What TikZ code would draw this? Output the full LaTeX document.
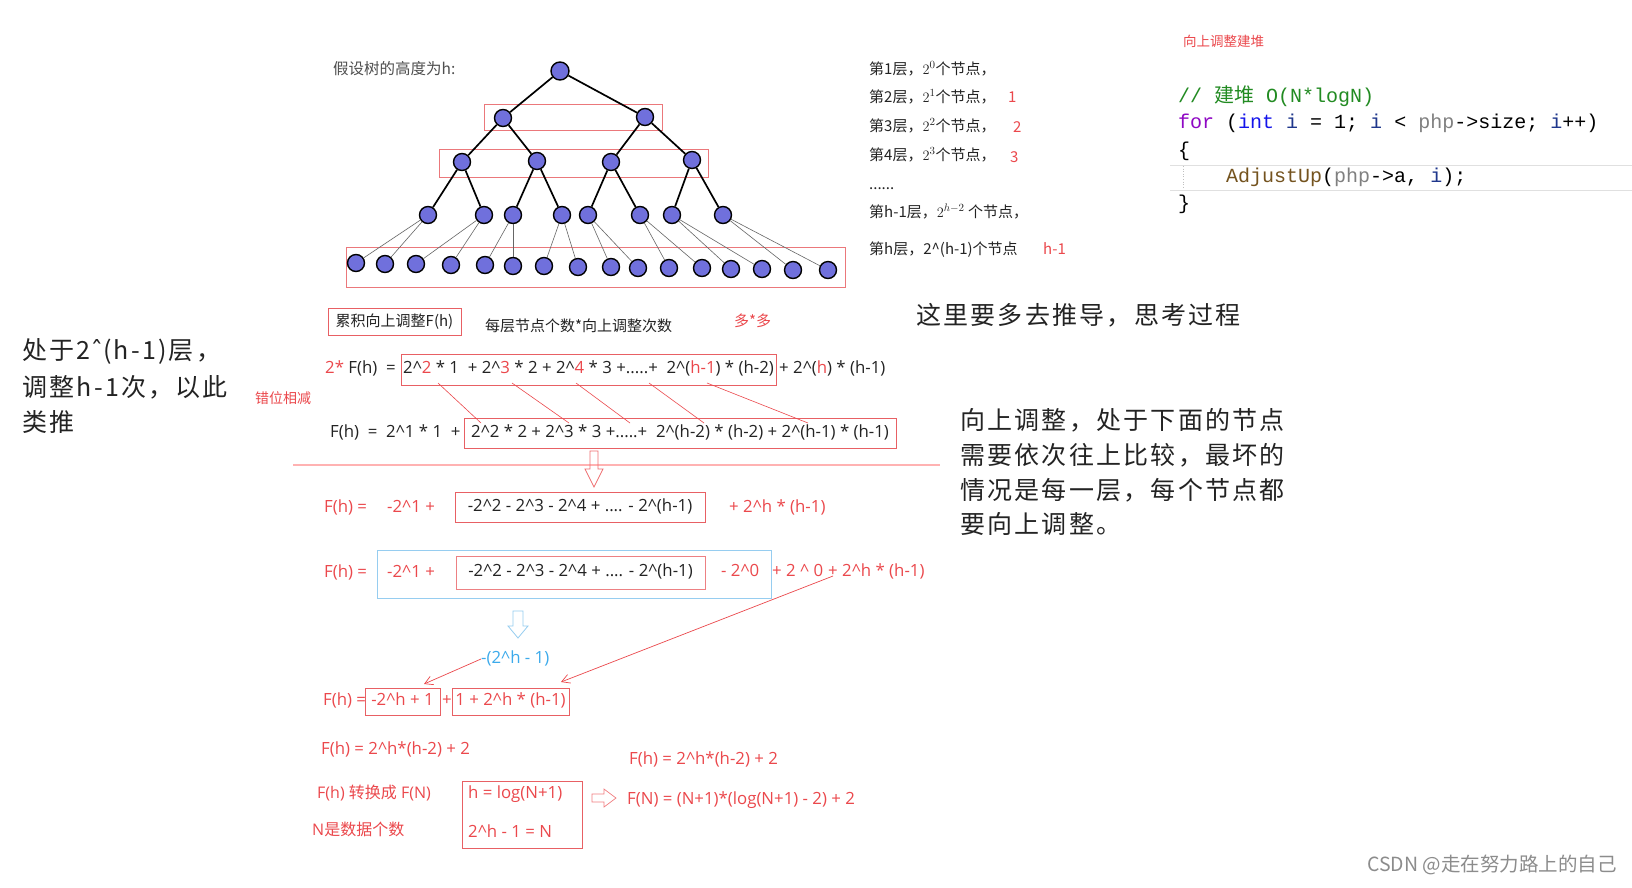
\documentclass[tikz,border=0pt]{standalone}
\usepackage{fontspec}
\setmainfont{Noto Sans CJK SC}
\newfontfamily\codefont{Liberation Mono}
\newfontfamily\cjkfont{Noto Sans CJK SC}
\newfontfamily\fmfont{Open Sans}
\newfontfamily\bigfont{Noto Sans CJK SC}[LetterSpace=9]
\newfontfamily\dvs{DejaVu Sans}
\usetikzlibrary{arrows.meta}
\definecolor{myred}{RGB}{235,72,76}
\definecolor{boxred}{RGB}{232,96,100}
\definecolor{myblue}{RGB}{60,170,235}
\definecolor{boxblue}{RGB}{150,205,240}
\definecolor{treefill}{RGB}{112,112,220}
\definecolor{ink}{RGB}{35,35,35}
\definecolor{cgreen}{RGB}{34,139,34}
\definecolor{cfor}{RGB}{143,8,196}
\definecolor{cint}{RGB}{20,20,235}
\definecolor{cvar}{RGB}{31,55,140}
\definecolor{cgray}{RGB}{128,128,128}
\definecolor{cfun}{RGB}{116,83,31}
\newcommand\crt{\textasciicircum}
\newcommand\rd[1]{\textcolor{myred}{#1}}
\begin{document}
\begin{tikzpicture}[x=1pt,y=-1pt,
  tn/.style={circle,draw=black,line width=1.4pt,fill=treefill,minimum size=17pt,inner sep=0pt},
  tk/.style={line width=1.7pt,black},
  tl/.style={line width=0.6pt,black!60},
  lvbox/.style={draw=boxred!85,line width=0.8pt},
  t15/.style={font=\fontsize{15}{17}\selectfont,inner sep=0pt,anchor=west,text height=11pt,text depth=3pt,text=ink},
  r15/.style={t15,text=myred},
  f15/.style={font=\fmfont\fontsize{16.8}{19}\selectfont,inner sep=0pt,anchor=west,text height=12pt,text depth=3.5pt,text=ink},
  rf15/.style={f15,text=myred},
  rbox/.style={draw=boxred,line width=0.8pt,inner sep=0pt,font=\fmfont\fontsize{16.8}{19}\selectfont,text height=12pt,text depth=3.5pt},
  big/.style={font=\bigfont\fontsize{25}{30}\selectfont,inner sep=0pt,anchor=west,text=ink},
  code/.style={font=\codefont\fontsize{20}{24}\selectfont,inner sep=0pt,anchor=west,text height=15pt,text depth=5pt},
  thinred/.style={line width=0.6pt,myred},
  redarrow/.style={line width=0.7pt,myred,-{Straight Barb[length=8pt,width=9pt]}}
]
\useasboundingbox[fill=white] (0,0) rectangle (1632,887);

% ---------------- tree ----------------
\node[t15,text=ink!80,font=\fontsize{15.5}{17}\selectfont] (ht) at (333,70) {假设树的高度为h:};
\draw[lvbox] (484,104) rectangle (662,130);
\draw[lvbox] (439,149) rectangle (708,177);
\draw[lvbox] (346,247) rectangle (845,287);

\node[tn,minimum size=18pt] (r) at (560,71) {};
\node[tn] (a1) at (503,118) {};
\node[tn] (a2) at (645,117) {};
\node[tn] (b1) at (462,162) {};
\node[tn] (b2) at (537,161) {};
\node[tn] (b3) at (611,162) {};
\node[tn] (b4) at (692,160) {};
\foreach \n/\x in {c1/428,c2/484,c3/513,c4/562,c5/588,c6/640,c7/672,c8/723}
  \node[tn] (\n) at (\x,215) {};
\foreach \n/\x/\y in {d1/356/263,d2/385/264,d3/416/264,d4/451/265,d5/485/265,d6/513/266,d7/544/266,d8/578/267,
  d9/611/267,d10/638/268,d11/669/268,d12/702/268,d13/731/269,d14/762/269,d15/793/270,d16/828/270}
  \node[tn] (\n) at (\x,\y) {};

\draw[tk] (r) -- (a1); \draw[tk] (r) -- (a2);
\draw[tk] (a1) -- (b1); \draw[tk] (a1) -- (b2);
\draw[tk] (a2) -- (b3); \draw[tk] (a2) -- (b4);
\draw[tk] (b1) -- (c1); \draw[tk] (b1) -- (c2);
\draw[tk] (b2) -- (c3); \draw[tk] (b2) -- (c4);
\draw[tk] (b3) -- (c5); \draw[tk] (b3) -- (c6);
\draw[tk] (b4) -- (c7); \draw[tk] (b4) -- (c8);
\foreach \p/\u/\v in {c1/d1/d2,c2/d3/d4,c3/d5/d6,c4/d7/d8,c5/d9/d10,c6/d11/d12,c7/d13/d14,c8/d15/d16}{
  \draw[tl] (\p) -- (\u); \draw[tl] (\p) -- (\v);}

% ---------------- level list ----------------
\node[t15] (lv1) at (869,70) {第1层，$\large 2^{0}$个节点，};
\node[t15] (lv2) at (869,98) {第2层，$\large 2^{1}$个节点，};
\node[t15] (lv3) at (869,127) {第3层，$\large 2^{2}$个节点，};
\node[t15] (lv4) at (869,156) {第4层，$\large 2^{3}$个节点，};
\node[t15] (lvd) at (869,185) {......};
\node[t15] (lv5) at (869,213) {第h-1层，$\large 2^{h-2}$ 个节点，};
\node[t15] (lv6) at (869,250) {第h层，2\crt(h-1)个节点};
\node[r15] (n1) at (1008,98) {1};
\node[r15] (n2) at (1013,128) {2};
\node[r15] (n3) at (1010,158) {3};
\node[r15] (n4) at (1043,250) {h-1};

% ---------------- code ----------------
\node[r15,font=\fontsize{13.5}{15}\selectfont] (ct) at (1183,42) {向上调整建堆};
\draw[black!12,line width=1pt] (1170,165) -- (1632,165);
\draw[black!12,line width=1pt] (1170,190) -- (1632,190);
\draw[black!25,dotted,line width=0.6pt] (1183,166) -- (1183,189);
\node[code,text=cgreen] (c0) at (1178,97) {// {\cjkfont 建堆} O(N*logN)};
\node[code] (cl1) at (1178,123) {\textcolor{cfor}{for} (\textcolor{cint}{int} \textcolor{cvar}{i} = 1; \textcolor{cvar}{i} < \textcolor{cgray}{php}->size; \textcolor{cvar}{i}++)};
\node[code] (cl2) at (1178,151) {\{};
\node[code] (cl3) at (1226,177) {\textcolor{cfun}{AdjustUp}(\textcolor{cgray}{php}->a, \textcolor{cvar}{i});};
\node[code] (cl4) at (1178,204) {\}};

% ---------------- big texts ----------------
\node[big] (L1) at (22,351) {处于2{\dvs ˆ}(h-1)层，};
\node[big] (L2) at (22,387) {调整h-1次，以此};
\node[big] (L3) at (22,422) {类推};
\node[r15,font=\fontsize{14}{15}\selectfont] (cw) at (255,399) {错位相减};
\node[big] (R0) at (916,315) {这里要多去推导，思考过程};
\node[big] (R1) at (960,420) {向上调整，处于下面的节点};
\node[big] (R2) at (960,455) {需要依次往上比较，最坏的};
\node[big] (R3) at (960,490) {情况是每一层，每个节点都};
\node[big] (R4) at (960,524) {要向上调整。};

% ---------------- formulas ----------------
\node[rbox,minimum width=133pt,minimum height=27pt,text=ink,font=\fontsize{15}{17}\selectfont] (fb) at (394.5,322) {累积向上调整F(h)};
\node[t15] (fm) at (485,327) {每层节点个数*向上调整次数};
\node[r15] (dd) at (734,322) {多*多};

\node[f15] (ra0) at (325,369) {\rd{2*} F(h) \ =};
\node[rbox,minimum width=375pt,minimum height=31pt,text=ink] (boxA) at (588.5,369.5)
  {2\crt\rd{2} * 1 \ + 2\crt\rd{3} * 2 + 2\crt\rd{4} * 3 +.....+ \ 2\crt(\rd{h-1}) * (h-2)};
\node[f15] (ra1) at (779,369) {+ 2\crt(\rd{h}) * (h-1)};

\node[f15] (rb0) at (330,433) {F(h) \ = \ 2\crt1 * 1 \ +};
\node[rbox,minimum width=432pt,minimum height=30pt,text=ink] (boxB) at (680,433)
  {2\crt2 * 2 + 2\crt3 * 3 +.....+ \ 2\crt(h-2) * (h-2) + 2\crt(h-1) * (h-1)};

\foreach \i/\xa/\xb in {1/438/481,2/512/569,3/576/630,4/649/704,5/707/808}{
  \coordinate (xa\i) at (\xa,383);
  \coordinate (xb\i) at (\xb,423);
  \draw[thinred] (xa\i) -- (xb\i);}

\draw[line width=2pt,red!30] (293,465) -- (940,465);
\draw[myred!80,line width=0.7pt] (590,451) -- (598,451) -- (598,469) -- (603,469) -- (594,487) -- (585,469) -- (590,469) -- cycle;

\node[rf15] (rc0) at (324,508) {F(h) =};
\node[rf15] (rc1) at (387,508) {-2\crt1 +};
\node[rbox,minimum width=250pt,minimum height=30pt,text=ink] (boxC) at (580,507) {-2\crt2 - 2\crt3 - 2\crt4 + .... - 2\crt(h-1)};
\node[rf15] (rc2) at (729,508) {+ 2\crt h * (h-1)};

\draw[boxblue,line width=0.9pt] (377,550) rectangle (771,598);
\node[rf15] (rd0) at (324,573) {F(h) =};
\node[rf15] (rd1) at (387,573) {-2\crt1 +};
\node[rbox,minimum width=249pt,minimum height=33pt,text=ink,draw=boxred!80] (boxD) at (580.5,572.5) {-2\crt2 - 2\crt3 - 2\crt4 + .... - 2\crt(h-1)};
\node[rf15] (rd2) at (721,572) {- 2\crt0};
\node[rf15] (rd3) at (772,572) {+ 2 \crt\ 0};
\node[rf15] (rd4) at (828,572) {+ 2\crt h * (h-1)};

\draw[boxblue,line width=0.8pt] (513,611) -- (523,611) -- (523,626) -- (528,626) -- (518,638) -- (508,626) -- (513,626) -- cycle;
\node[f15,text=myblue] (bl) at (481,659) {-(2\crt h - 1)};

\node[rf15] (re0) at (323,701) {F(h) =};
\node[rbox,minimum width=75pt,minimum height=27pt,text=myred] (boxE1) at (402.5,701.5) {-2\crt h + 1};
\node[rf15] (re1) at (442,701) {+};
\node[rbox,minimum width=117pt,minimum height=27pt,text=myred] (boxE2) at (510.5,701.5) {1 + 2\crt h * (h-1)};

\coordinate (ar1s) at (833,576);
\coordinate (ar1e) at (561,682);
\draw[redarrow] (ar1s) -- (ar1e);
\coordinate (ar2e) at (424,684);
\draw[redarrow] (bl.west) -- (ar2e);

\node[rf15] (rf0) at (321,750) {F(h) = 2\crt h*(h-2) + 2};
\node[rf15] (rf1) at (629,760) {F(h) = 2\crt h*(h-2) + 2};
\node[rf15,font=\fmfont\fontsize{16}{18}\selectfont] (rg0) at (317,794) {F(h) {\cjkfont 转换成} F(N)};
\draw[boxred,line width=0.8pt] (462,781) rectangle (582,848);
\node[rf15] (rg1) at (468,794) {h = log(N+1)};
\node[rf15] (rg2) at (468,833) {2\crt h - 1 = N};
\node[rf15,font=\fmfont\fontsize{16}{18}\selectfont] (rh0) at (312,831) {N{\cjkfont 是数据个数}};
\draw[myred!70,line width=0.7pt] (592,794) -- (604,794) -- (604,789) -- (616,798) -- (604,807) -- (604,802) -- (592,802) -- cycle;
\node[rf15] (rg3) at (627,800) {F(N) = (N+1)*(log(N+1) - 2) + 2};

\node[t15,text=black!45,font=\fontsize{19.5}{21}\selectfont] (wm) at (1367,867) {CSDN @走在努力路上的自己};
\end{tikzpicture}
\end{document}
